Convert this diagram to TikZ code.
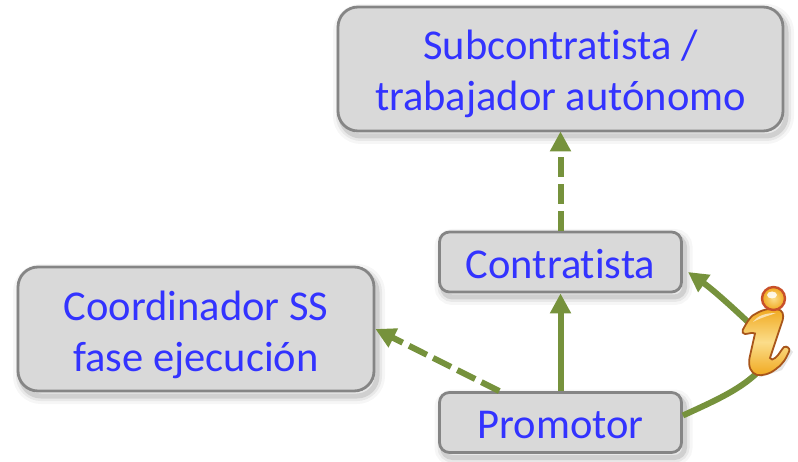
\documentclass[tikz,border=0pt]{standalone}
\usepackage{fontspec}
\setmainfont[Ligatures=NoCommon]{Carlito}
\usetikzlibrary{arrows.meta,calc}
\definecolor{boxfill}{HTML}{D9D9D9}
\definecolor{boxline}{HTML}{858585}
\definecolor{boxtext}{HTML}{3333FF}
\definecolor{linkgreen}{HTML}{76923C}
\definecolor{icongold}{HTML}{F0A81E}
\definecolor{iconpale}{HTML}{FBDD8A}
\definecolor{iconedge}{HTML}{A8551A}
\definecolor{iconring}{HTML}{C8502A}
\newcommand\topstrut[1]{\rule{0pt}{#1pt}}
\tikzset{
  boxbase/.style={draw=boxline,fill=boxfill,line width=2.8pt,text=boxtext,align=center,inner sep=0pt,
    font=\fontsize{42.5}{51}\selectfont,
    preaction={draw=black,draw opacity=.035,line width=16pt,transform canvas={shift={(3pt,-5pt)}}},
    preaction={draw=black,draw opacity=.06,line width=10pt,transform canvas={shift={(3pt,-5pt)}}},
    preaction={draw=black,draw opacity=.10,line width=5pt,transform canvas={shift={(3pt,-5pt)}}}},
  bigbox/.style={boxbase,rounded corners=20pt},
  smallbox/.style={boxbase,rounded corners=10pt},
  link/.style={draw=linkgreen,line width=6pt,-{Triangle[length=20pt,width=20pt]}},
  dashlink/.style={link,dash pattern=on 20pt off 7pt},
  plainlink/.style={draw=linkgreen,line width=6pt}
}
\begin{document}
\begin{tikzpicture}[x=1pt,y=-1pt]
\useasboundingbox (0,0) rectangle (798,462);
\node[bigbox,minimum width=445pt,minimum height=124pt] (sub) at (560.5,69) {\topstrut{39}Subcontratista /\\trabajador autónomo};
\node[bigbox,minimum width=356pt,minimum height=124pt] (coord) at (196,329) {\topstrut{42}Coordinador SS\\fase ejecución};
\node[smallbox,minimum width=242pt,minimum height=60pt] (contr) at (560.5,262) {\topstrut{33}Contratista};
\node[smallbox,minimum width=242pt,minimum height=60pt] (prom) at (560.5,422.5) {\topstrut{33}Promotor};
\coordinate (contrtip) at (688,272);
\coordinate (iconout) at (748,322);
\coordinate (iconin) at (757,373);
\coordinate (promdash) at ($(prom.north west)!0.25!(prom.north east)$);
% connectors
\draw[dashlink] (contr.north) -- ([yshift=1pt]sub.south);
\draw[link] (prom.north) -- (contr.south);
\draw[dashlink] (promdash) -- (coord.east);
\draw[plainlink] (prom.east) ++(0,-7) coordinate (promout) (promout) .. controls (712,402) and (738,391) .. (iconin);
\draw[link] (iconout) .. controls (730,305) and (712,289) .. (contrtip);
% information icon
\begin{scope}
\path[fill=black,fill opacity=.10] (758,378) -- (782,370) -- (793,352) -- (786,345) -- (770,372) -- cycle;
\draw[draw=iconedge,line width=1.8pt,top color=icongold,bottom color=icongold,middle color=iconpale]
  (742.7,330) .. controls (747,322) and (751,315) .. (757,313)
  .. controls (764,309) and (772,308) .. (777,309)
  .. controls (783,310) and (784,315) .. (782.7,320)
  -- (776,340) -- (770,358)
  .. controls (771,360) and (773,360) .. (775,358)
  .. controls (779,355) and (781,350) .. (784,347)
  .. controls (787,346) and (790,348) .. (789.3,351)
  .. controls (786,359) and (782,365) .. (776,369)
  .. controls (770,374) and (762,376) .. (757,375)
  .. controls (751,373) and (748,367) .. (749.5,358)
  -- (755,333.5)
  .. controls (752,332) and (748,334) .. (745,334)
  .. controls (743,334) and (742,332) .. (742.7,330) -- cycle;
\fill[white,opacity=.6] (753,322) .. controls (757,316) and (765,313) .. (776,313) .. controls (768,316) and (760,318) .. (753,322) -- cycle;
\shade[inner color=iconpale,outer color=icongold,draw=iconring,line width=2.4pt] (773.5,298.5) circle (11.5);
\fill[white,opacity=.85] (772,295) ellipse (5 and 3.5);
\end{scope}
\end{tikzpicture}
\end{document}
